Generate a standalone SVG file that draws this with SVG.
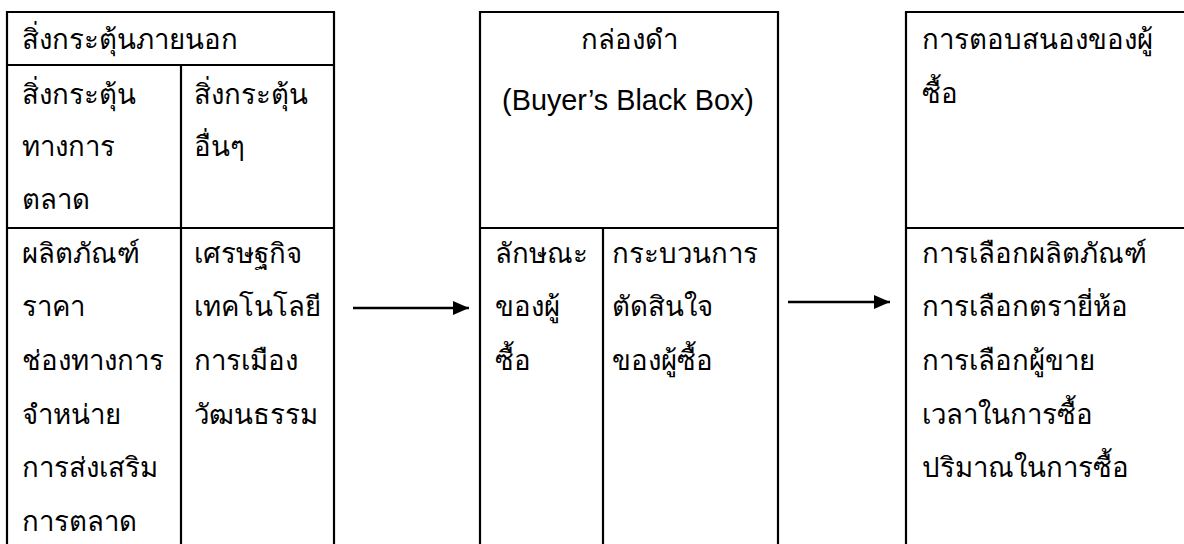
<svg xmlns="http://www.w3.org/2000/svg" width="1184" height="544" viewBox="0 0 1184 544">
<defs>
<style>
.b{fill:none;stroke:#000;stroke-width:2.2}
.t{font-family:"DejaVu Sans",sans-serif;font-size:27.6px;fill:#000}
.e{font-family:"Liberation Sans",Arial,sans-serif;font-size:28.8px;fill:#000}
.c{stroke:#000;stroke-width:2.6;fill:none}
</style>
<marker id="ah" markerWidth="16" markerHeight="14" refX="16" refY="7" orient="auto" markerUnits="userSpaceOnUse">
<path d="M0,0 L16,7 L0,14 z" fill="#000"/>
</marker>
</defs>
<rect width="1184" height="544" fill="#fff"/>
<g id="stimuli">
<path class="b" d="M7,546 V12 H334 V546 M7,65 H334 M181,65 V546 M7,228 H334"/>
<text class="t" x="22" y="49">สิ่งกระตุ้นภายนอก</text>
<text class="t" x="22" y="104">สิ่งกระตุ้น</text>
<text class="t" x="22" y="156">ทางการ</text>
<text class="t" x="22" y="209">ตลาด</text>
<text class="t" x="194" y="104">สิ่งกระตุ้น</text>
<text class="t" x="194" y="156">อื่นๆ</text>
<text class="t" x="22" y="263">ผลิตภัณฑ์</text>
<text class="t" x="22" y="316">ราคา</text>
<text class="t" x="22" y="370">ช่องทางการ</text>
<text class="t" x="22" y="424">จำหน่าย</text>
<text class="t" x="22" y="477">การส่งเสริม</text>
<text class="t" x="22" y="531">การตลาด</text>
<text class="t" x="194" y="263">เศรษฐกิจ</text>
<text class="t" x="194" y="316">เทคโนโลยี</text>
<text class="t" x="194" y="370">การเมือง</text>
<text class="t" x="194" y="424">วัฒนธรรม</text>
</g>
<g id="blackbox">
<path class="b" d="M480,546 V12 H778 V546 M480,228 H778 M603,228 V546"/>
<text class="t" x="629" y="49" text-anchor="middle">กล่องดำ</text>
<text class="e" x="628" y="110" text-anchor="middle">(Buyer’s Black Box)</text>
<text class="t" x="495" y="263">ลักษณะ</text>
<text class="t" x="495" y="316">ของผู้</text>
<text class="t" x="495" y="370">ซื้อ</text>
<text class="t" x="612" y="263">กระบวนการ</text>
<text class="t" x="612" y="316">ตัดสินใจ</text>
<text class="t" x="612" y="370">ของผู้ซื้อ</text>
</g>
<g id="response">
<path class="b" d="M906,546 V12 H1190 M906,228 H1190"/>
<text class="t" x="922" y="49">การตอบสนองของผู้</text>
<text class="t" x="922" y="103">ซื้อ</text>
<text class="t" x="922" y="263">การเลือกผลิตภัณฑ์</text>
<text class="t" x="922" y="316">การเลือกตรายี่ห้อ</text>
<text class="t" x="922" y="370">การเลือกผู้ขาย</text>
<text class="t" x="922" y="424">เวลาในการซื้อ</text>
<text class="t" x="922" y="477">ปริมาณในการซื้อ</text>
</g>
<g id="connectors">
<line class="c" x1="353" y1="308" x2="469" y2="308" marker-end="url(#ah)"/>
<line class="c" x1="788" y1="302" x2="890" y2="302" marker-end="url(#ah)"/>
</g>
</svg>
